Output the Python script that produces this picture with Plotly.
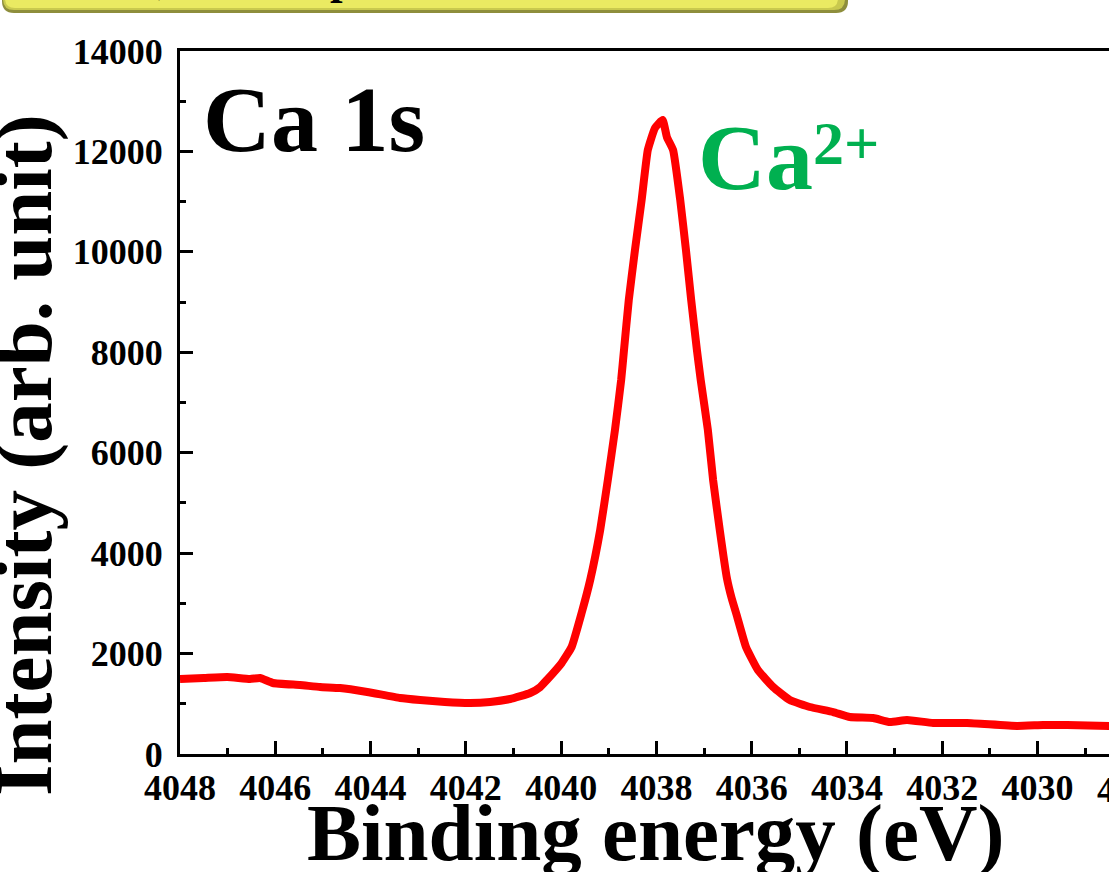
import plotly.graph_objects as go

# ---- data ----
binding_energy = [4048.00, 4047.50, 4047.01, 4046.53, 4046.32, 4046.05, 4045.48, 4045.06,
                  4044.64, 4044.07, 4043.38, 4042.96, 4042.44, 4041.91, 4041.49, 4041.07,
                  4040.65, 4040.44, 4040.30, 4039.99, 4039.78, 4039.57, 4039.39, 4039.18,
                  4039.02, 4038.87, 4038.74, 4038.68, 4038.58, 4038.45, 4038.31, 4038.18,
                  4038.03, 4037.87, 4037.78, 4037.65, 4037.50, 4037.38, 4037.27, 4037.15,
                  4037.07, 4036.92, 4036.81, 4036.67, 4036.52, 4036.42, 4036.31, 4036.12,
                  4035.87, 4035.55, 4035.20, 4034.78, 4034.29, 4033.94, 4033.45, 4033.10,
                  4032.74, 4032.19, 4031.48, 4030.43, 4029.88, 4029.38, 4028.50, 4028.30]
intensity = [1494, 1514, 1533, 1494, 1514, 1414, 1374, 1334,
             1314, 1235, 1115, 1075, 1036, 1016, 1036, 1095,
             1215, 1334, 1474, 1812, 2131, 2808, 3465, 4461,
             5457, 6452, 7448, 8046, 9041, 10037, 11033, 12029,
             12467, 12626, 12287, 12029, 11033, 10037, 9041, 8046,
             7448, 6452, 5457, 4461, 3500, 3100, 2750, 2131,
             1673, 1334, 1075, 936, 836, 737, 717, 637,
             677, 617, 617, 558, 578, 578, 558, 560]

x_range = [4048, 4028.5]
y_range = [0, 14000]
cut_tick_value = 4028
cut_tick_label = "4028"

W, H = 1109, 872
ML, MR, MT, MB = 180, 0, 51, 118
PW, PH = W - ML - MR, H - MT - MB

def px_x(px):
    return (px - ML) / PW

def px_y(py):
    return (H - MB - py) / PH

SERIF = "Liberation Serif"

fig = go.Figure()
fig.add_trace(go.Scatter(
    x=binding_energy, y=intensity, mode="lines",
    line=dict(color="#FF0000", width=8, shape="spline", smoothing=0.4),
    showlegend=False, hoverinfo="skip",
))

tickfont = dict(family=SERIF, size=36, color="black", weight="bold")

fig.update_xaxes(
    range=x_range, dtick=2, tick0=4048, ticks="inside", ticklen=13, tickwidth=3,
    tickcolor="black", showline=True, linewidth=3, linecolor="black", mirror=True,
    showgrid=False, zeroline=False, tickfont=tickfont, ticklabelstandoff=0,
    tickformat="d",
    minor=dict(dtick=1, ticks="inside", ticklen=6, tickwidth=3, tickcolor="black", showgrid=False),
)
fig.update_yaxes(
    range=y_range, dtick=2000, ticks="inside", ticklen=13, tickwidth=3,
    tickcolor="black", showline=True, linewidth=3, linecolor="black",
    showgrid=False, zeroline=False, tickfont=tickfont, ticklabelstandoff=7,
    tickformat="d",
    minor=dict(dtick=1000, ticks="inside", ticklen=6, tickwidth=3, tickcolor="black", showgrid=False),
)

# cut-off tick label beyond the right edge (position from axis scale)
cut_frac = (x_range[0] - cut_tick_value) / (x_range[0] - x_range[1])

annotations = [
    dict(text=cut_tick_label, xref="paper", yref="paper", x=cut_frac, y=0,
         xanchor="center", yanchor="top", yshift=-14, showarrow=False,
         font=tickfont),
    # axis titles
    dict(text="Binding energy (eV)", xref="paper", yref="paper",
         x=px_x(655), y=px_y(833), xanchor="center", yanchor="middle",
         showarrow=False, font=dict(family=SERIF, size=81, color="black", weight="bold")),
    dict(text="Intensity (arb. unit)", xref="paper", yref="paper",
         x=px_x(24), y=px_y(455), xanchor="center", yanchor="middle", textangle=-90,
         showarrow=False, font=dict(family=SERIF, size=81, color="black", weight="bold")),
    # labels
    dict(text="Ca 1s", xref="paper", yref="paper", x=px_x(201), y=px_y(173),
         xanchor="left", yanchor="bottom", showarrow=False,
         font=dict(family=SERIF, size=94, color="black", weight="bold")),
    dict(text="Ca", xref="paper", yref="paper", x=px_x(696), y=px_y(211),
         xanchor="left", yanchor="bottom", showarrow=False,
         font=dict(family=SERIF, size=94, color="#00B050", weight="bold")),
    dict(text="2+", xref="paper", yref="paper", x=px_x(811), y=px_y(179),
         xanchor="left", yanchor="bottom", showarrow=False,
         font=dict(family=SERIF, size=62, color="#00B050", weight="bold")),
    # cut-off title remnants inside the yellow banner
    dict(text=",", xref="paper", yref="paper", x=px_x(156), y=px_y(6),
         xanchor="left", yanchor="bottom", showarrow=False,
         font=dict(family=SERIF, size=45, color="black", weight="bold")),
    dict(text="p", xref="paper", yref="paper", x=px_x(328), y=px_y(6),
         xanchor="left", yanchor="bottom", showarrow=False,
         font=dict(family=SERIF, size=45, color="black", weight="bold")),
]

def rounded_rect(x0, y0, x1, y1, r):
    X = lambda v: px_x(v)
    Y = lambda v: px_y(v)
    return (f"M {X(x0)} {Y(y0)} L {X(x1)} {Y(y0)} L {X(x1)} {Y(y1 - r)} "
            f"Q {X(x1)} {Y(y1)} {X(x1 - r)} {Y(y1)} L {X(x0 + r)} {Y(y1)} "
            f"Q {X(x0)} {Y(y1)} {X(x0)} {Y(y1 - r)} Z")

shapes = [
    dict(type="path", xref="paper", yref="paper", path=rounded_rect(2, -40, 848, 13, 12),
         fillcolor="#8E8E3C", line=dict(width=0), layer="above"),
    dict(type="path", xref="paper", yref="paper", path=rounded_rect(3, -40, 845, 10, 11),
         fillcolor="#C9C94E", line=dict(width=0), layer="above"),
    dict(type="path", xref="paper", yref="paper", path=rounded_rect(5, -40, 838, 8, 10),
         fillcolor="#EAEA62", line=dict(width=0), layer="above"),
]

fig.update_layout(
    width=W, height=H, margin=dict(l=ML, r=MR, t=MT, b=MB, pad=0),
    paper_bgcolor="white", plot_bgcolor="white",
    annotations=annotations, shapes=shapes,
    font=dict(family=SERIF, color="black"),
)

fig.write_html("out.html")
